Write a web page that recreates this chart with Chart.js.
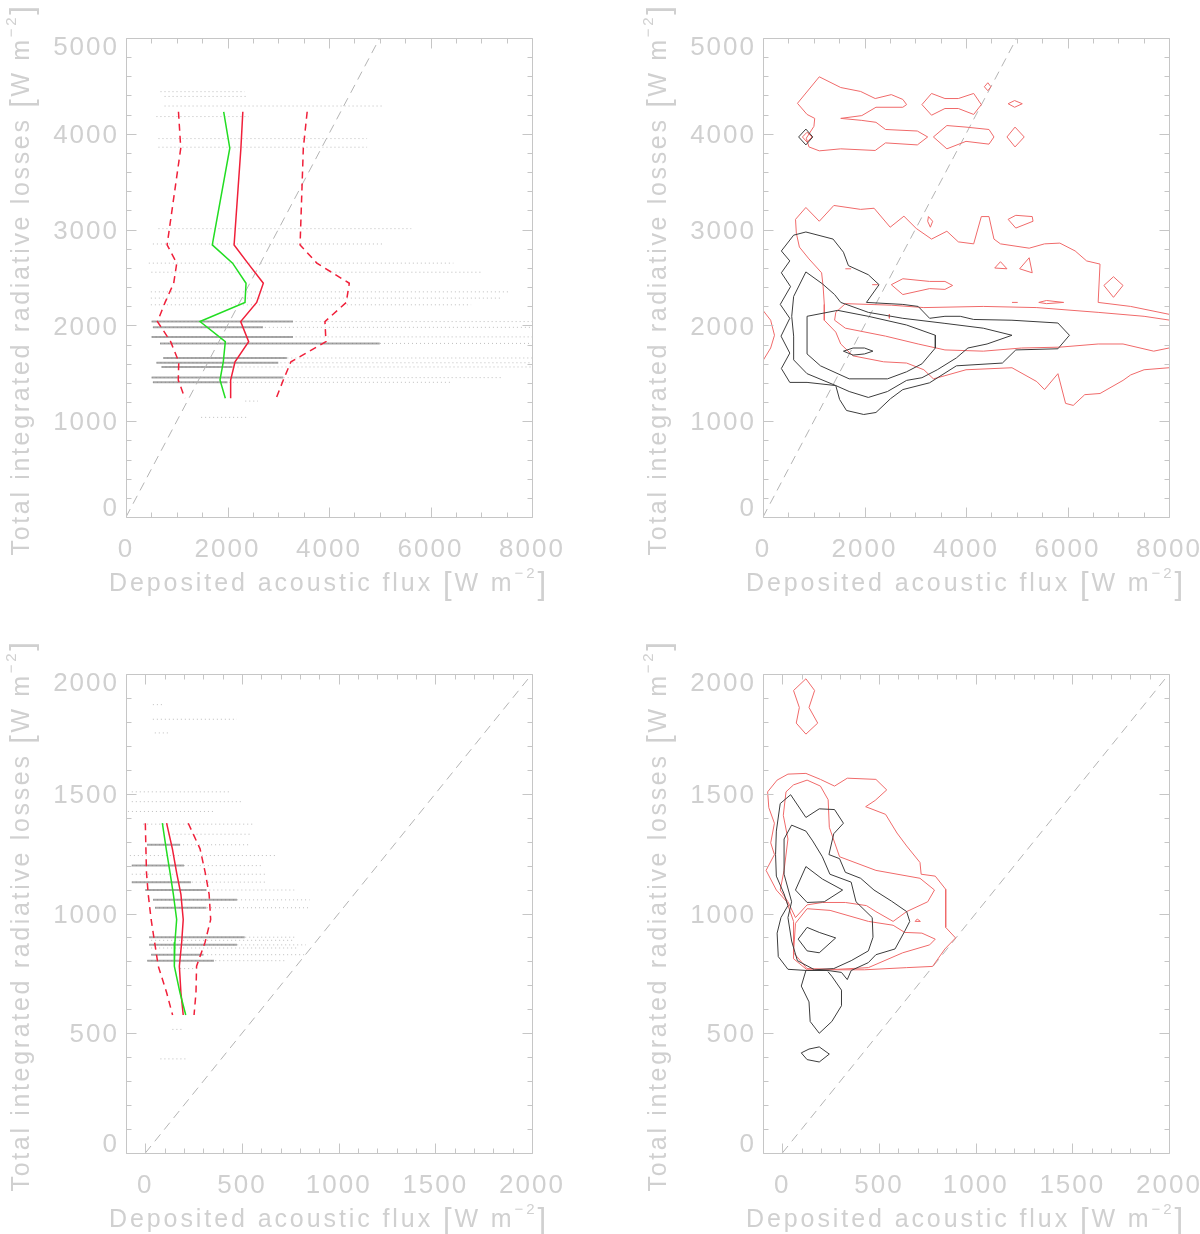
<!DOCTYPE html>
<html>
<head>
<meta charset="utf-8">
<title>Deposited acoustic flux vs radiative losses</title>
<script src="https://cdn.jsdelivr.net/npm/chart.js@4.4.0/dist/chart.umd.min.js"></script>
<style>
  html, body { margin: 0; padding: 0; background: #fff; }
  #page { position: relative; width: 1200px; height: 1234px; overflow: hidden; }
  #page canvas { position: absolute; }
</style>
</head>
<body>
<div id="page">
  <canvas id="tl" width="600" height="617" style="left:0;top:0"></canvas>
  <canvas id="tr" width="600" height="617" style="left:600px;top:0"></canvas>
  <canvas id="bl" width="600" height="617" style="left:0;top:617px"></canvas>
  <canvas id="br" width="600" height="617" style="left:600px;top:617px"></canvas>
</div>
<script>
// ---- axes ----
const topXTicks = [0, 2000, 4000, 6000, 8000];
const topYTicks = [0, 1000, 2000, 3000, 4000, 5000];
const botXTicks = [0, 500, 1000, 1500, 2000];
const botYTicks = [0, 500, 1000, 1500, 2000];

// ---- top-left: binned curves (y bin, x value) ----
const tlBinY   = [4230, 3850, 2840, 2650, 2440, 2240, 2040, 1830, 1620, 1430, 1240];
const tlGreen  = [1925, 2045, 1700, 2100, 2365, 2345, 1458, 1957, 1917, 1852, 1957];
const tlRed    = [2302, 2264, 2130, 2400, 2706, 2575, 2260, 2417, 2148, 2062, 2062];
const tlRedLo  = [1034, 1079, 810, 1000, 940, 770, 620, 880, 1040, 1030, 1160];
const tlRedHi  = [3570, 3494, 3430, 3760, 4400, 4340, 3920, 3940, 3250, 3100, 2960];

// top-left scatter rows: y, first x, last x, end of the dense part (0 = none)
const tlRowY     = [4440, 4390, 4290, 4180, 3950, 3860, 3010, 2850, 2650, 2555, 2350, 2285, 2215, 2040, 1980, 1880, 1812, 1660, 1610, 1566, 1455, 1406, 1210, 1040];
const tlRowStart = [680, 760, 760, 600, 640, 640, 640, 530, 450, 500, 490, 490, 490, 505, 530, 505, 670, 735, 600, 700, 505, 530, 2350, 1480];
const tlRowEnd   = [2340, 2400, 5060, 2420, 4750, 4750, 5620, 5060, 6450, 7040, 7550, 7400, 6800, 8000, 8000, 8000, 8000, 8000, 8000, 8000, 7400, 6400, 2600, 2400];
const tlRowDense = [0, 0, 0, 0, 0, 0, 0, 0, 0, 0, 0, 0, 0, 3290, 2700, 3290, 5000, 3170, 3000, 2100, 3100, 2000, 0, 0];

// ---- bottom-left ----
const blBinY   = [1377, 1270, 1170, 1080, 975, 880, 780, 670, 576];
const blGreen  = [88, 108, 128, 145, 162, 153, 150, 179, 209];
const blRed    = [110, 140, 162, 184, 196, 188, 176, 184, 196];
const blRedLo  = [0, 3, 6, 15, 30, 48, 67, 110, 141];
const blRedHi  = [222, 283, 310, 330, 338, 309, 265, 262, 252];

const blRowY     = [1872, 1811, 1754, 1508, 1467, 1426, 1373, 1331, 1287, 1242, 1200, 1164, 1131, 1098, 1057, 1024, 901, 888, 869, 856, 828, 803, 770, 516, 393];
const blRowStart = [39, 39, 49, -70, -70, -90, -11, 120, 9, -80, -70, -70, -70, 0, 40, 50, 20, 30, 20, 30, 30, 10, 180, 140, 78];
const blRowEnd   = [88, 474, 128, 435, 494, 365, 553, 553, 543, 672, 610, 630, 630, 770, 850, 850, 770, 770, 830, 780, 830, 730, 280, 188, 207];
const blRowDense = [0, 0, 0, 0, 0, 0, 0, 0, 180, 0, 200, 0, 236, 316, 474, 316, 514, 0, 474, 0, 300, 355, 0, 0, 0];

// ---- top-right contours ----
const trRedTop  = [[679,4318],[1109,4595],[1532,4483],[1924,4442],[2211,4368],[2528,4409],[2755,4359],[2830,4305],[2755,4277],[2226,4277],[1947,4190],[1532,4161],[1947,4140],[2226,4120],[2415,4045],[3041,4029],[3245,3967],[3041,3884],[2415,3905],[2211,3826],[1532,3843],[1109,3822],[906,3863],[853,3954],[1004,4078],[1019,4161],[868,4202],[679,4318]];
const trRedHexA = [[3132,4305],[3321,4421],[3585,4368],[3849,4368],[4151,4421],[4302,4305],[4151,4202],[3849,4264],[3585,4264],[3321,4194],[3132,4305]];
const trRedHexB = [[3358,3967],[3623,4086],[4000,4070],[4453,4045],[4551,3967],[4453,3892],[4000,3921],[3623,3843],[3358,3967]];
const trRedDia1 = [[4362,4491],[4430,4533],[4491,4491],[4430,4450],[4362,4491]];
const trRedDia2 = [[4830,4314],[4958,4347],[5109,4314],[4958,4277],[4830,4314]];
const trRedDia3 = [[4807,3967],[4966,4070],[5147,3967],[4966,3863],[4807,3967]];
const trRedDia4 = [[777,3967],[868,4016],[966,3967],[868,3913],[777,3967]];
const trBlackDia = [[702,3967],[845,4049],[981,3967],[845,3884],[702,3967]];

const trRedOuter = [[8200,2110],[8000,2116],[7245,2198],[6604,2240],[6641,2640],[6377,2673],[6151,2777],[5849,2859],[5547,2851],[5245,2806],[4679,2851],[4551,2901],[4453,3136],[4302,3136],[4151,2851],[3849,2872],[3623,2983],[3321,2901],[3019,3012],[2777,3140],[2506,3025],[2189,3223],[1924,3211],[1396,3252],[1109,3087],[845,3231],[641,3107],[657,2963],[717,2818],[906,2694],[1155,2549],[1185,2405],[1208,2219],[1208,2054],[1434,1930],[1532,1806],[1774,1682],[2377,1620],[2830,1607],[3170,1537],[3358,1442],[3585,1475],[4000,1537],[4906,1558],[5396,1413],[5547,1330],[5811,1496],[5962,1186],[6113,1165],[6340,1277],[6641,1289],[7094,1426],[7245,1483],[7509,1537],[8000,1558],[8200,1560]];
const trRedInner = [[8200,2040],[7509,2095],[6604,2136],[5396,2186],[4340,2198],[3170,2186],[2528,2211],[1623,2227],[1434,2136],[1411,2054],[1623,1971],[2415,1888],[3057,1806],[3585,1744],[4340,1731],[5094,1764],[5849,1773],[6604,1806],[7094,1806],[7698,1731],[8000,1764],[8200,1760]];
const trRedEdge  = [[0,2157],[151,2054],[226,1897],[151,1764],[0,1632]];
const trRedLens  = [[2528,2425],[2755,2487],[3283,2459],[3585,2459],[3736,2417],[3585,2376],[3283,2384],[2755,2322],[2528,2425]];
const trRedTri1  = [[4566,2599],[4679,2665],[4807,2591],[4566,2599]];
const trRedTri2  = [[5057,2591],[5245,2706],[5305,2549],[5057,2591]];
const trRedDia5  = [[6717,2417],[6906,2508],[7094,2417],[6906,2293],[6717,2417]];
const trRedDia6  = [[3260,3136],[3343,3087],[3298,3025],[3245,3087],[3260,3136]];
const trRedLens2 = [[4830,3107],[4981,3149],[5305,3136],[5321,3087],[4981,3016],[4830,3107]];
const trRedLens3 = [[5434,2240],[5585,2260],[5924,2240],[5585,2227],[5434,2240]];
const trRedBit1  = [[4906,2240],[5019,2240]];
const trRedBit2  = [[1623,2591],[1736,2591]];
const trRedBit3  = [[2151,2425],[2264,2425]];
const trRedBit4  = [[2490,2116],[2490,2074]];

const trBlackOuter = [[845,2975],[1381,2901],[1585,2764],[1683,2624],[2075,2529],[2287,2425],[2038,2240],[2755,2219],[3057,2198],[3283,2074],[3585,2095],[3887,2095],[4151,2062],[4906,2054],[5811,2025],[6038,1897],[5811,1756],[4981,1744],[4717,1607],[3811,1578],[3283,1401],[2755,1330],[2513,1235],[2226,1091],[1985,1070],[1645,1112],[1509,1227],[1434,1372],[868,1405],[528,1405],[362,1550],[528,1711],[355,1888],[528,2074],[340,2219],[543,2405],[362,2549],[528,2673],[362,2777],[604,2942],[845,2975]];
const trBlackMid = [[845,2558],[1170,2434],[1411,2322],[1532,2240],[2075,2136],[2755,2074],[3585,2021],[4340,1971],[4906,1897],[4415,1806],[4038,1764],[3811,1661],[3434,1537],[3132,1454],[2830,1426],[2453,1310],[2075,1248],[1698,1310],[1434,1372],[868,1496],[604,1640],[604,1888],[566,2095],[604,2302],[845,2558]];
const trBlackIn  = [[868,2095],[1472,2157],[2075,2095],[2830,2004],[3396,1897],[3396,1764],[3132,1599],[2830,1516],[2453,1442],[1698,1442],[1132,1578],[868,1702],[868,2095]];
const trBlackCore = [[1585,1731],[1774,1764],[2000,1764],[2166,1731],[2000,1702],[1774,1690],[1585,1731]];

// ---- bottom-right contours ----
const brRedTop   = [[58,1931],[122,1980],[167,1931],[138,1860],[183,1795],[122,1749],[72,1795],[88,1860],[58,1931]];
const brRedOuter = [[-76,1508],[-27,1557],[29,1582],[122,1585],[197,1560],[270,1532],[336,1565],[484,1560],[540,1516],[480,1472],[431,1446],[534,1414],[593,1336],[643,1282],[712,1213],[718,1164],[791,1156],[845,1101],[845,942],[896,898],[841,852],[777,779],[643,774],[425,765],[128,765],[58,811],[58,967],[23,1049],[-31,1098],[-84,1180],[-41,1246],[-60,1295],[-41,1377],[-70,1442],[-76,1508]];
const brRedMid   = [[19,1508],[58,1537],[128,1557],[197,1532],[237,1475],[243,1360],[296,1237],[484,1180],[712,1147],[787,1098],[752,1049],[643,1008],[573,967],[484,1008],[435,1033],[326,1046],[207,1046],[128,1036],[68,983],[29,1049],[-11,1098],[9,1180],[29,1311],[5,1410],[19,1508]];
const brRedIn    = [[68,959],[58,836],[128,770],[286,767],[445,774],[623,836],[762,869],[791,893],[722,918],[633,921],[573,951],[445,967],[247,1013],[128,1020],[68,959]];
const brRedTri   = [[687,967],[698,977],[714,967],[687,967]];
const brBlackOuter = [[-11,1459],[43,1496],[122,1401],[191,1437],[270,1434],[316,1377],[266,1333],[241,1246],[296,1229],[326,1172],[405,1147],[474,1098],[564,1052],[643,1008],[659,967],[633,926],[583,852],[484,828],[445,795],[356,762],[336,724],[306,754],[236,762],[128,762],[29,767],[-21,820],[-27,918],[-7,983],[29,1033],[9,1082],[-31,1156],[-35,1246],[-31,1344],[-11,1459]];
const brBlackMid = [[48,1369],[122,1344],[157,1303],[207,1237],[246,1164],[356,1131],[381,1049],[465,983],[469,901],[445,844],[356,803],[266,770],[167,765],[78,803],[48,885],[29,983],[48,1049],[9,1164],[9,1311],[48,1369]];
const brBlackUp  = [[68,1098],[122,1196],[207,1144],[312,1098],[217,1049],[128,1046],[68,1098]];
const brBlackCore = [[82,893],[128,942],[191,921],[276,898],[191,836],[128,844],[82,893]];
const brBlackLow = [[122,762],[98,697],[138,631],[144,549],[191,500],[256,549],[306,615],[306,680],[256,738],[236,757]];
const brBlackDot = [[98,418],[138,434],[191,443],[243,413],[191,380],[128,390],[98,418]];

// ---- styling ----
const AXIS_COLOR = '#c6c6c6';
const TEXT_COLOR = '#d0d0d0';
const FONT = "'Liberation Sans', Arial, sans-serif";
const RED = '#f0203a';
const GREEN = '#22dd22';
const CONTOUR_RED = '#f06a6a';
const CONTOUR_BLACK = '#3c3c3c';

const pts = arr => arr.map(([x, y]) => ({ x, y }));
const zip = (xs, ys) => ys.map((y, i) => ({ x: xs[i], y }));

function lineSet(data, color, width, dash) {
  return { data, showLine: true, borderColor: color, borderWidth: width, borderDash: dash || [], pointRadius: 0, tension: 0, fill: false, spanGaps: false };
}

function rowSet(ys, x0, x1, color, width, dash) {
  const data = [];
  ys.forEach((y, i) => {
    if (x1[i] && x1[i] > x0[i]) data.push({ x: x0[i], y }, { x: x1[i], y }, { x: x1[i], y: null });
  });
  return lineSet(data, color, width, dash);
}

function drawTitle(ctx, pieces, width) {
  // pieces: [text, size, raise]
  ctx.letterSpacing = '0px';
  let natural = 0, chars = 0;
  pieces.forEach(([t, s]) => { ctx.font = s + 'px ' + FONT; natural += ctx.measureText(t).width; chars += t.length; });
  const ls = (width - natural) / chars;
  let cx = -width / 2;
  ctx.textAlign = 'left';
  ctx.textBaseline = 'alphabetic';
  ctx.fillStyle = TEXT_COLOR;
  pieces.forEach(([t, s, r]) => {
    ctx.font = s + 'px ' + FONT;
    ctx.letterSpacing = ls + 'px';
    ctx.fillText(t, cx, -r);
    ctx.letterSpacing = '0px';
    cx += ctx.measureText(t).width + ls * t.length;
  });
}

const xTitle = [['Deposited acoustic flux ', 25, 0], ['[', 31, -3], ['W m', 25, 0], ['\u22122', 15, 13], [']', 31, -3]];
const yTitle = [['Total integrated radiative losses ', 25, 0], ['[', 31, -3], ['W m', 25, 0], ['\u22122', 15, 13], [']', 31, -3]];

const frameTicks = {
  id: 'frameTicks',
  beforeDraw(chart) { chart.ctx.letterSpacing = '2px'; },
  afterDraw(chart, args, o) {
    const { ctx, chartArea: a } = chart;
    const xs = chart.scales.x, ys = chart.scales.y;
    ctx.save();
    ctx.letterSpacing = '0px';
    ctx.strokeStyle = AXIS_COLOR;
    ctx.lineWidth = 1;
    ctx.beginPath();
    const L = Math.round(a.left) + 0.5, R = Math.round(a.right) + 0.5;
    const T = Math.round(a.top) + 0.5, B = Math.round(a.bottom) + 0.5;
    ctx.rect(L, T, R - L, B - T);
    for (let i = 0; xs.min + i * o.xMinor <= xs.max + 1e-6; i++) {
      const v = xs.min + i * o.xMinor;
      const px = Math.round(xs.getPixelForValue(v)) + 0.5;
      const len = o.xMajor.includes(v) ? 10 : 5;
      ctx.moveTo(px, B); ctx.lineTo(px, B - len);
      ctx.moveTo(px, T); ctx.lineTo(px, T + len);
    }
    for (let i = 0; ys.min + i * o.yMinor <= ys.max + 1e-6; i++) {
      const v = ys.min + i * o.yMinor;
      const py = Math.round(ys.getPixelForValue(v)) + 0.5;
      const len = o.yMajor.includes(v) ? 10 : 5;
      ctx.moveTo(L, py); ctx.lineTo(L + len, py);
      ctx.moveTo(R, py); ctx.lineTo(R - len, py);
    }
    ctx.stroke();

    // y tick labels, kept inside the frame at both ends
    ctx.font = '26px ' + FONT;
    ctx.fillStyle = TEXT_COLOR;
    ctx.textAlign = 'right';
    ctx.textBaseline = 'middle';
    ctx.letterSpacing = '2px';
    ys.ticks.forEach(t => {
      const py = ys.getPixelForValue(t.value);
      const yy = Math.min(Math.max(py + 2, a.top + 10), a.bottom - 8);
      ctx.fillText(String(t.value), a.left - 7, yy);
    });

    ctx.save();
    ctx.translate((a.left + a.right) / 2, a.bottom + 74);
    drawTitle(ctx, xTitle, 440);
    ctx.restore();

    ctx.save();
    ctx.translate(a.left - 97, (a.top + a.bottom) / 2 + 2);
    ctx.rotate(-Math.PI / 2);
    drawTitle(ctx, yTitle, 552);
    ctx.restore();
    ctx.restore();
  }
};

function makeChart(id, datasets, box, xr, yr, xTicks, yTicks, xMinor, yMinor) {
  const tickFont = { family: FONT, size: 26 };
  return new Chart(document.getElementById(id), {
    type: 'scatter',
    data: { datasets },
    options: {
      responsive: false,
      animation: false,
      events: [],
      layout: { padding: { left: 0, top: box.top, right: box.right, bottom: 0 } },
      plugins: {
        legend: { display: false },
        tooltip: { enabled: false },
        frameTicks: { xMajor: xTicks, yMajor: yTicks, xMinor, yMinor }
      },
      scales: {
        x: {
          type: 'linear', min: xr[0], max: xr[1],
          afterBuildTicks: s => { s.ticks = xTicks.map(v => ({ value: v })); },
          afterFit: s => { s.height = box.bottom; s.paddingLeft = 0; s.paddingRight = 0; },
          grid: { display: false, drawTicks: false, tickLength: 0 },
          border: { display: false },
          ticks: { color: TEXT_COLOR, font: tickFont, padding: 17, maxRotation: 0, autoSkip: false, callback: v => String(v) }
        },
        y: {
          type: 'linear', min: yr[0], max: yr[1],
          afterBuildTicks: s => { s.ticks = yTicks.map(v => ({ value: v })); },
          afterFit: s => { s.width = box.left; s.paddingTop = 0; s.paddingBottom = 0; },
          grid: { display: false, drawTicks: false, tickLength: 0 },
          border: { display: false },
          ticks: { display: false }
        }
      }
    },
    plugins: [frameTicks]
  });
}

const DOT = 'rgba(110,110,110,0.45)';
const DENSE = 'rgba(110,110,110,0.6)';
const DIAG = '#b4b4b4';

// top-left
makeChart('tl', [
  lineSet(zip(tlGreen, tlBinY), GREEN, 1.5),
  lineSet(zip(tlRed, tlBinY), RED, 1.5),
  lineSet(zip(tlRedLo, tlBinY), RED, 1.5, [7, 5]),
  lineSet(zip(tlRedHi, tlBinY), RED, 1.5, [7, 5]),
  lineSet([{ x: 0, y: 0 }, { x: 5000, y: 5000 }], DIAG, 1, [9, 6]),
  rowSet(tlRowY, tlRowStart, tlRowDense, DENSE, 2, []),
  rowSet(tlRowY, tlRowStart, tlRowEnd, DOT, 1, [1, 3])
], { left: 126, top: 38, right: 68, bottom: 100 }, [0, 8000], [0, 5000], topXTicks, topYTicks, 500, 200);

// top-right
const trRedSets = [trRedTop, trRedHexA, trRedHexB, trRedDia1, trRedDia2, trRedDia3, trRedDia4,
  trRedOuter, trRedInner, trRedEdge, trRedLens, trRedTri1, trRedTri2, trRedDia5, trRedDia6,
  trRedLens2, trRedLens3, trRedBit1, trRedBit2, trRedBit3, trRedBit4];
const trBlackSets = [trBlackDia, trBlackOuter, trBlackMid, trBlackIn, trBlackCore];
makeChart('tr', [
  ...trBlackSets.map(c => lineSet(pts(c), CONTOUR_BLACK, 1)),
  ...trRedSets.map(c => lineSet(pts(c), CONTOUR_RED, 1)),
  lineSet([{ x: 0, y: 0 }, { x: 5000, y: 5000 }], DIAG, 1, [9, 6])
], { left: 163, top: 38, right: 31, bottom: 100 }, [0, 8000], [0, 5000], topXTicks, topYTicks, 500, 200);

// bottom-left
makeChart('bl', [
  lineSet(zip(blGreen, blBinY), GREEN, 1.5),
  lineSet(zip(blRed, blBinY), RED, 1.5),
  lineSet(zip(blRedLo, blBinY), RED, 1.5, [7, 5]),
  lineSet(zip(blRedHi, blBinY), RED, 1.5, [7, 5]),
  lineSet([{ x: 0, y: 0 }, { x: 2000, y: 2000 }], DIAG, 1, [9, 6]),
  rowSet(blRowY, blRowStart, blRowDense, DENSE, 2, []),
  rowSet(blRowY, blRowStart, blRowEnd, DOT, 1, [1, 3])
], { left: 126, top: 57, right: 68, bottom: 81 }, [-100, 2000], [0, 2000], botXTicks, botYTicks, 100, 100);

// bottom-right
const brRedSets = [brRedTop, brRedOuter, brRedMid, brRedIn, brRedTri];
const brBlackSets = [brBlackOuter, brBlackMid, brBlackUp, brBlackCore, brBlackLow, brBlackDot];
makeChart('br', [
  ...brBlackSets.map(c => lineSet(pts(c), CONTOUR_BLACK, 1)),
  ...brRedSets.map(c => lineSet(pts(c), CONTOUR_RED, 1)),
  lineSet([{ x: 0, y: 0 }, { x: 2000, y: 2000 }], DIAG, 1, [9, 6])
], { left: 163, top: 57, right: 31, bottom: 81 }, [-100, 2000], [0, 2000], botXTicks, botYTicks, 100, 100);
</script>
</body>
</html>
